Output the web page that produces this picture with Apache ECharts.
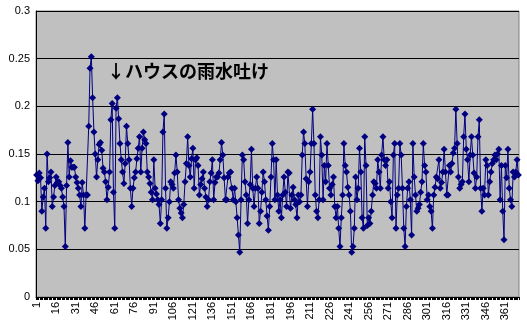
<!DOCTYPE html>
<html>
<head>
<meta charset="utf-8">
<script src="https://cdn.jsdelivr.net/npm/echarts@6/dist/echarts.min.js"></script>
<style>
html,body{margin:0;padding:0;background:#fff;}
#c{width:527px;height:332px;}
</style>
</head>
<body>
<div id="c"></div>
<script>
// categories: day numbers 1..371
const categories = Array.from({length: 371}, (_, i) => String(i + 1));

const values = [
0.128,0.122,0.13,0.125,0.09,0.105,0.114,0.072,0.15,0.121,
0.125,0.131,0.095,0.105,0.117,0.126,0.12,0.121,0.117,0.114,
0.105,0.095,0.053,0.117,0.162,0.126,0.143,0.136,0.136,0.136,
0.126,0.12,0.114,0.107,0.095,0.12,0.107,0.072,0.107,0.107,
0.179,0.24,0.252,0.209,0.173,0.15,0.126,0.144,0.16,0.162,
0.154,0.135,0.131,0.121,0.102,0.115,0.131,0.186,0.203,0.11,
0.072,0.198,0.209,0.187,0.161,0.144,0.131,0.119,0.14,0.179,
0.161,0.144,0.114,0.095,0.114,0.125,0.131,0.145,0.156,0.168,
0.131,0.156,0.173,0.165,0.161,0.131,0.126,0.119,0.11,0.102,
0.144,0.114,0.108,0.102,0.097,0.077,0.102,0.173,0.192,0.114,
0.072,0.083,0.1,0.121,0.118,0.114,0.13,0.149,0.131,0.102,
0.093,0.088,0.083,0.097,0.121,0.14,0.168,0.138,0.126,0.145,
0.156,0.114,0.144,0.146,0.138,0.107,0.118,0.124,0.131,0.114,
0.105,0.095,0.102,0.121,0.13,0.144,0.102,0.12,0.126,0.126,
0.13,0.144,0.162,0.149,0.125,0.102,0.102,0.126,0.13,0.131,
0.114,0.102,0.114,0.1,0.083,0.065,0.047,0.102,0.149,0.144,
0.121,0.107,0.077,0.102,0.118,0.155,0.114,0.095,0.114,0.126,
0.114,0.077,0.09,0.11,0.131,0.121,0.102,0.085,0.07,0.095,
0.126,0.161,0.144,0.102,0.144,0.107,0.09,0.102,0.083,0.107,
0.126,0.11,0.095,0.131,0.13,0.093,0.107,0.115,0.102,0.097,
0.083,0.107,0.1,0.107,0.149,0.173,0.161,0.124,0.095,0.121,
0.131,0.161,0.197,0.161,0.107,0.09,0.083,0.102,0.168,0.149,
0.102,0.138,0.121,0.161,0.138,0.114,0.107,0.118,0.126,0.095,
0.083,0.095,0.072,0.053,0.083,0.107,0.161,0.138,0.131,0.115,
0.107,0.09,0.047,0.053,0.072,0.126,0.102,0.114,0.156,0.131,
0.083,0.072,0.168,0.138,0.075,0.083,0.077,0.09,0.107,0.121,
0.119,0.114,0.144,0.131,0.114,0.149,0.168,0.144,0.138,0.144,
0.114,0.121,0.1,0.083,0.149,0.161,0.072,0.107,0.114,0.161,
0.149,0.114,0.072,0.053,0.095,0.114,0.121,0.102,0.065,0.161,
0.126,0.107,0.09,0.093,0.097,0.11,0.121,0.161,0.138,0.131,
0.102,0.107,0.095,0.09,0.072,0.107,0.115,0.126,0.124,0.144,
0.114,0.12,0.131,0.155,0.131,0.107,0.107,0.138,0.131,0.14,
0.151,0.156,0.197,0.161,0.126,0.114,0.118,0.121,0.168,0.192,
0.155,0.144,0.121,0.149,0.168,0.149,0.13,0.114,0.126,0.168,
0.186,0.114,0.09,0.114,0.107,0.144,0.138,0.107,0.121,0.131,
0.14,0.144,0.149,0.144,0.15,0.155,0.102,0.138,0.09,0.06,
0.138,0.125,0.155,0.114,0.102,0.095,0.131,0.126,0.131,0.144,0.128
];

const yTicks = [0, 0.05, 0.1, 0.15, 0.2, 0.25, 0.3];
const annotation = '↓ハウスの雨水吐け';

const chart = echarts.init(document.getElementById('c'), null, {renderer: 'canvas'});
chart.setOption({
  animation: false,
  backgroundColor: '#ffffff',
  grid: {
    left: 36, top: 11, right: 8, bottom: 35,
    show: true, backgroundColor: '#c0c0c0', borderColor: '#808080', borderWidth: 1
  },
  xAxis: {
    type: 'category',
    data: categories,
    boundaryGap: true,
    axisLine: {show: true, lineStyle: {color: '#000', width: 1}},
    axisTick: {show: true, interval: 0, length: 3, inside: false, lineStyle: {color: '#000'}},
    axisLabel: {
      interval: 14, rotate: 90, color: '#000', fontSize: 11,
      fontFamily: 'Liberation Sans, Arial, sans-serif', margin: 5
    },
    splitLine: {show: false}
  },
  yAxis: {
    type: 'value',
    min: yTicks[0], max: yTicks[yTicks.length - 1], interval: 0.05,
    axisLine: {show: true, lineStyle: {color: '#000', width: 1}},
    axisTick: {show: false},
    axisLabel: {color: '#000', fontSize: 11, fontFamily: 'Liberation Sans, Arial, sans-serif', margin: 6},
    splitLine: {show: true, lineStyle: {color: '#000', width: 1}}
  },
  series: [{
    type: 'line',
    data: values,
    symbol: 'diamond',
    symbolSize: 7,
    showAllSymbol: true,
    itemStyle: {color: '#000080'},
    lineStyle: {color: '#000080', width: 1},
    z: 3
  }],
  graphic: [{
    type: 'text',
    left: 107, top: 62,
    style: {
      text: annotation,
      fill: '#000',
      font: 'bold 18px "Noto Sans CJK JP", sans-serif'
    },
    z: 10
  }]
});
</script>
</body>
</html>
